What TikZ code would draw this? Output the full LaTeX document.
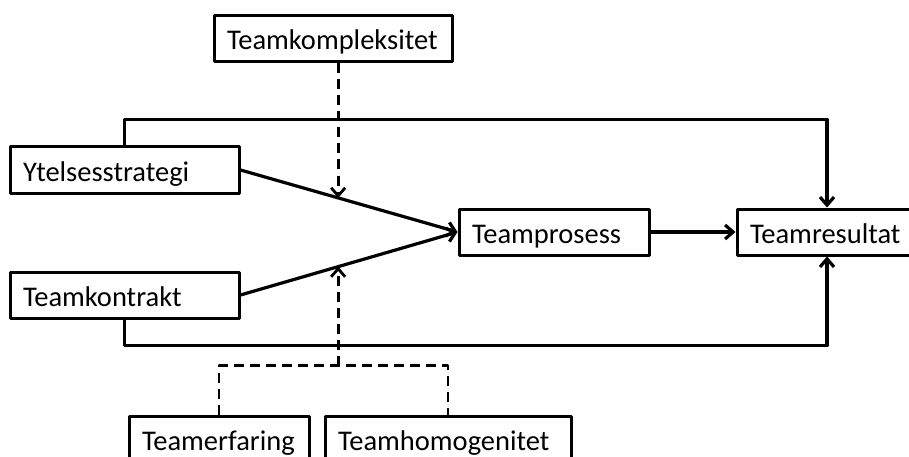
\documentclass[tikz,border=0pt]{standalone}
\usepackage{fontspec}
\setmainfont{Carlito}
\usetikzlibrary{arrows.meta,calc}

\begin{document}
\begin{tikzpicture}[x=1pt, y=-1pt, font=\fontsize{28.5}{34}\selectfont, line join=round, line width=3.2pt, >={Straight Barb[length=8pt,width=14pt]},
	boks/.style={draw, line width=3pt, inner xsep=13pt, inner ysep=0pt, minimum height=46pt, text height=24pt, text depth=2pt, align=left},
	modus/.style={line width=2.8pt, dash pattern=on 10pt off 6pt}]
	\useasboundingbox (0,0) rectangle (909,457);
	\node[boks, text width=212pt] (kompl) at (333,39) {Teamkompleksitet};
	\node[boks, text width=203pt] (ytel) at (124.5,170) {Ytelsesstrategi};
	\node[boks, text width=203pt] (kontr) at (124.5,295) {Teamkontrakt};
	\node[boks, text width=164pt] (prosess) at (554,232) {Teamprosess};
	\node[boks, text width=154pt] (result) at (827,232) {Teamresultat};
	\node[boks, text width=154pt] (erfaring) at (219,439) {Teamerfaring};
	\node[boks, text width=220pt] (homogen) at (448,439) {Teamhomogenitet};
	\coordinate (m1) at ($(ytel.east)!0.45!(prosess.west)$);
	\coordinate (m2) at ($(kontr.east)!0.45!(prosess.west)$);
	\coordinate (brack) at ($(erfaring.north)+(0,-49)$);
	\draw[->] (ytel.east) -- (prosess.west);
	\draw[->] (kontr.east) -- (prosess.west);
	\draw[->] (prosess) -- (result);
	\draw[->] (ytel.north) -- ++(0,-26) -| (result.north);
	\draw[->] (kontr.south) -- ++(0,26) -| (result.south);
	\draw[modus,->] (kompl.south -| m1) -- (m1);
	\draw[modus] (erfaring.north) -- (brack) -| (homogen.north);
	\draw[modus,->] (brack -| m2) -- (m2);
\end{tikzpicture}
\end{document}
